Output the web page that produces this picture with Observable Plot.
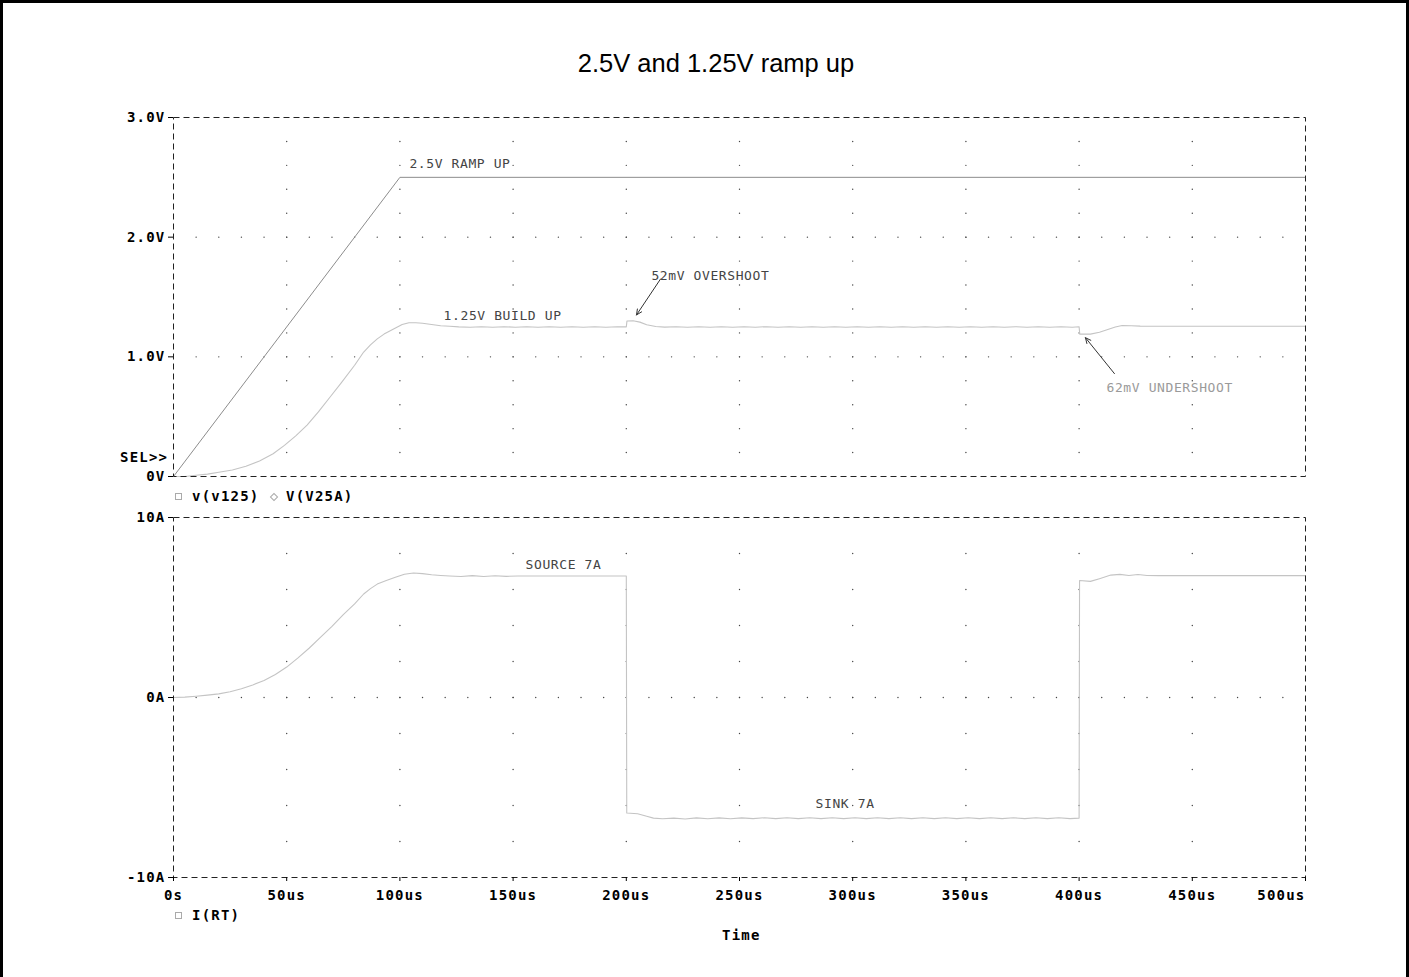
<!DOCTYPE html>
<html><head><meta charset="utf-8">
<script src="https://cdn.jsdelivr.net/npm/d3@7"></script>
<script src="https://cdn.jsdelivr.net/npm/@observablehq/plot@0.6"></script>
<style>
body{margin:0;background:#fff;}
#page{position:relative;width:1409px;height:977px;overflow:hidden;background:#fff;}
#border{position:absolute;left:0;top:0;width:1409px;height:1000px;box-sizing:border-box;border:3px solid #000;pointer-events:none;}
#title{position:absolute;left:316px;width:800px;top:48px;text-align:center;font-family:"Liberation Sans",Arial,sans-serif;font-size:25.5px;line-height:30px;color:#000;}
.mono{position:absolute;font-family:"DejaVu Sans Mono",monospace;font-weight:bold;font-size:14px;line-height:16px;letter-spacing:1.2px;color:#000;white-space:nowrap;}
.sq{position:absolute;width:5px;height:5px;border:1px solid #aaa;box-sizing:content-box;}
.dm{position:absolute;width:4px;height:4px;border:1px solid #aaa;transform:rotate(45deg);}
.panel{position:absolute;left:0;}
.panel svg [aria-label$="tick label"]{letter-spacing:1.2px;}
.panel svg g[aria-label="text"]{letter-spacing:0.6px;}
</style>
</head><body>
<div id="page">
  <div id="title">2.5V and 1.25V ramp up</div>
  <div id="topPanel" class="panel" style="top:100px"></div>
  <div id="botPanel" class="panel" style="top:500px"></div>
  <div class="mono" style="left:120px;top:449px">SEL&gt;&gt;</div>
  <div class="sq" style="left:175px;top:493px"></div>
  <div class="mono" style="left:192px;top:488px">v(v125)</div>
  <div class="dm" style="left:271px;top:494px"></div>
  <div class="mono" style="left:286px;top:488px">V(V25A)</div>
  <div class="sq" style="left:175px;top:912px"></div>
  <div class="mono" style="left:192px;top:907px">I(RT)</div>
  <div class="mono" style="left:722px;top:927px">Time</div>
  <div id="border"></div>
</div>
<script>
// ---------- data ----------
const timeTicks = [0, 50, 100, 150, 200, 250, 300, 350, 400, 450, 500];
const timeTickLabels = ["0s", "50us", "100us", "150us", "200us", "250us", "300us", "350us", "400us", "450us", "500us"];
const voltTicks = [0, 1, 2, 3];
const voltTickLabels = ["0V", "1.0V", "2.0V", "3.0V"];
const ampTicks = [-10, 0, 10];
const ampTickLabels = ["-10A", "0A", "10A"];

// V(V25A): [time us, volts]
const v25aPoints = [[0, 0], [100, 2.5], [500, 2.5]];

// v(v125): [time us, volts]
const v125Points = [
  [0,0],[5,0.0],[10,0.01],[15,0.02],[20,0.035],[26,0.055],[32,0.085],[38,0.13],[44,0.19],[49,0.26],
  [54,0.34],[59,0.43],[64,0.54],[69,0.66],[74,0.78],[80,0.93],[84,1.04],[87,1.1],[90,1.15],[93,1.19],
  [97,1.23],[101,1.27],[104,1.285],[107,1.285],[110,1.28],[114,1.27],[118,1.26],[122,1.255],[126,1.25],
  [131,1.247],[136,1.252],[141,1.247],[146,1.252],[151,1.247],[156,1.252],[161,1.247],[166,1.252],
  [171,1.247],[176,1.252],[181,1.247],[186,1.252],[191,1.247],[196,1.252],[200,1.25],
  [200.3,1.30],[203,1.302],[206,1.29],[209,1.268],[213,1.254],[217,1.248],[222,1.252],[227,1.247],
  [232,1.252],[237,1.247],[242,1.252],[247,1.247],[252,1.252],[257,1.247],[262,1.252],[267,1.247],
  [272,1.252],[277,1.247],[282,1.252],[287,1.247],[292,1.252],[297,1.247],[302,1.252],[307,1.247],
  [312,1.252],[317,1.247],[322,1.252],[327,1.247],[332,1.252],[337,1.247],[342,1.252],[347,1.247],
  [352,1.252],[357,1.247],[362,1.252],[367,1.247],[372,1.252],[377,1.247],[382,1.252],[387,1.247],
  [392,1.252],[397,1.247],[400,1.252],
  [400.3,1.19],[405,1.19],[409,1.205],[412,1.225],[416,1.25],[419,1.262],[423,1.26],[427,1.257],
  [432,1.256],[500,1.256]
];

// I(RT): [time us, amps]
const iRTPoints = [
  [0,0],[5,0.02],[10,0.07],[15,0.13],[20,0.2],[25,0.32],[30,0.49],[35,0.7],[40,0.94],[45,1.28],
  [50,1.69],[55,2.2],[60,2.75],[65,3.35],[70,3.95],[75,4.6],[80,5.2],[84,5.75],[87,6.05],[90,6.3],
  [94,6.5],[98,6.68],[102,6.85],[106,6.92],[110,6.88],[114,6.82],[118,6.78],[122,6.75],[127,6.72],
  [132,6.77],[137,6.72],[142,6.76],[147,6.73],[152,6.75],[160,6.75],[200,6.75],
  [200.2,-6.42],[205,-6.46],[209,-6.6],[212,-6.7],[216,-6.74],[221,-6.7],[226,-6.75],[231,-6.69],
  [236,-6.74],[241,-6.69],[246,-6.74],[251,-6.69],[256,-6.73],[261,-6.68],[266,-6.73],[271,-6.68],
  [276,-6.73],[281,-6.68],[286,-6.73],[291,-6.68],[296,-6.73],[301,-6.68],[306,-6.73],[311,-6.68],
  [316,-6.73],[321,-6.68],[326,-6.73],[331,-6.68],[336,-6.73],[341,-6.68],[346,-6.73],[351,-6.68],
  [356,-6.73],[361,-6.68],[366,-6.73],[371,-6.68],[376,-6.73],[381,-6.68],[386,-6.73],[391,-6.68],
  [396,-6.73],[400,-6.7],
  [400.2,6.5],[405,6.45],[409,6.6],[414,6.8],[418,6.84],[422,6.78],[426,6.83],[430,6.78],[435,6.77],[500,6.77]
];

// annotations (top panel)
const topNotes = ["2.5V RAMP UP", "1.25V BUILD UP", "52mV OVERSHOOT", "62mV UNDERSHOOT"];
const topNoteT = [104.2, 119.3, 211.1, 412.1];
const topNoteV = [2.61, 1.34, 1.68, 0.74];
const arrowFromT = [215.1, 415.6];
const arrowFromV = [1.65, 0.86];
const arrowToT = [204.5, 402.8];
const arrowToV = [1.35, 1.16];
// annotations (bottom panel)
const botNotes = ["SOURCE 7A", "SINK 7A"];
const botNoteT = [155.5, 283.6];
const botNoteA = [7.39, -5.89];

// ---------- build ----------
const mono = '"DejaVu Sans Mono", monospace';
const W = 1409, ML = 173, MR = 104;
const voltLabel = new Map(voltTicks.map((d, i) => [d, voltTickLabels[i]]));
const ampLabel = new Map(ampTicks.map((d, i) => [d, ampTickLabels[i]]));
const timeLabel = new Map(timeTicks.map((d, i) => [d, timeTickLabels[i]]));

const innerTimes = timeTicks.slice(1, -1);
const fineTimes = d3.range(10, 500, 10);

const topGrid = [];
for (const t of innerTimes) for (let k = 1; k < 15; k++) topGrid.push({t, y: k * 0.2});
for (const y of [1, 2]) for (const t of fineTimes) topGrid.push({t, y});
const botGrid = [];
for (const t of innerTimes) for (let k = -4; k <= 4; k++) botGrid.push({t, y: k * 2});
for (const t of fineTimes) botGrid.push({t, y: 0});

const notesTop = topNotes.map((s, i) => ({s, t: topNoteT[i], v: topNoteV[i]}));
const arrows = arrowFromT.map((d, i) => ({t1: d, v1: arrowFromV[i], t2: arrowToT[i], v2: arrowToV[i]}));
const notesBot = botNotes.map((s, i) => ({s, t: botNoteT[i], v: botNoteA[i]}));

const axisText = {fontFamily: mono, fontSize: 14, fontWeight: "bold", fill: "#000"};
const noteText = {fontFamily: mono, fontSize: 13, textAnchor: "start", lineAnchor: "middle"};

const topPlot = Plot.plot({
  width: W, height: 400,
  marginLeft: ML, marginRight: MR, marginTop: 17, marginBottom: 24,
  x: {domain: [0, 500], axis: null},
  y: {domain: [0, 3]},
  style: {background: "transparent", overflow: "visible"},
  marks: [
    Plot.dot(topGrid, {x: "t", y: "y", r: 0.7, fill: "#444", stroke: null}),
    Plot.line(v25aPoints, {x: d => d[0], y: d => d[1], stroke: "#8c8c8c", strokeWidth: 1}),
    Plot.line(v125Points, {x: d => d[0], y: d => d[1], stroke: "#c4c4c4", strokeWidth: 1.1}),
    Plot.frame({stroke: "#222", strokeDasharray: "6,4"}),
    Plot.axisY(voltTicks, {anchor: "left", tickSize: 5, tickPadding: 3, tickFormat: d => voltLabel.get(d), label: null, ...axisText}),
    Plot.text(notesTop.slice(0, 3), {x: "t", y: "v", text: "s", fill: "#444", ...noteText}),
    Plot.text(notesTop.slice(3), {x: "t", y: "v", text: "s", fill: "#9a9a9a", ...noteText}),
    Plot.arrow(arrows, {x1: "t1", y1: "v1", x2: "t2", y2: "v2", stroke: "#333", strokeWidth: 1, headLength: 9, headAngle: 50})
  ]
});
document.getElementById("topPanel").appendChild(topPlot);

const botPlot = Plot.plot({
  width: W, height: 460,
  marginLeft: ML, marginRight: MR, marginTop: 17, marginBottom: 83,
  x: {domain: [0, 500]},
  y: {domain: [-10, 10]},
  style: {background: "transparent", overflow: "visible"},
  marks: [
    Plot.dot(botGrid, {x: "t", y: "y", r: 0.7, fill: "#444", stroke: null}),
    Plot.line(iRTPoints, {x: d => d[0], y: d => d[1], stroke: "#c4c4c4", strokeWidth: 1.1}),
    Plot.frame({stroke: "#222", strokeDasharray: "6,4"}),
    Plot.axisY(ampTicks, {anchor: "left", tickSize: 5, tickPadding: 3, tickFormat: d => ampLabel.get(d), label: null, ...axisText}),
    Plot.axisX(timeTicks.slice(0, -1), {anchor: "bottom", tickSize: 4, tickPadding: 9, tickFormat: d => timeLabel.get(d), label: null, ...axisText}),
    Plot.axisX(timeTicks.slice(-1), {anchor: "bottom", tickSize: 4, tickPadding: 9, tickFormat: d => timeLabel.get(d), label: null, textAnchor: "end", ...axisText}),
    Plot.text(notesBot, {x: "t", y: "v", text: "s", fill: "#444", ...noteText})
  ]
});
document.getElementById("botPanel").appendChild(botPlot);
</script>
</body></html>
